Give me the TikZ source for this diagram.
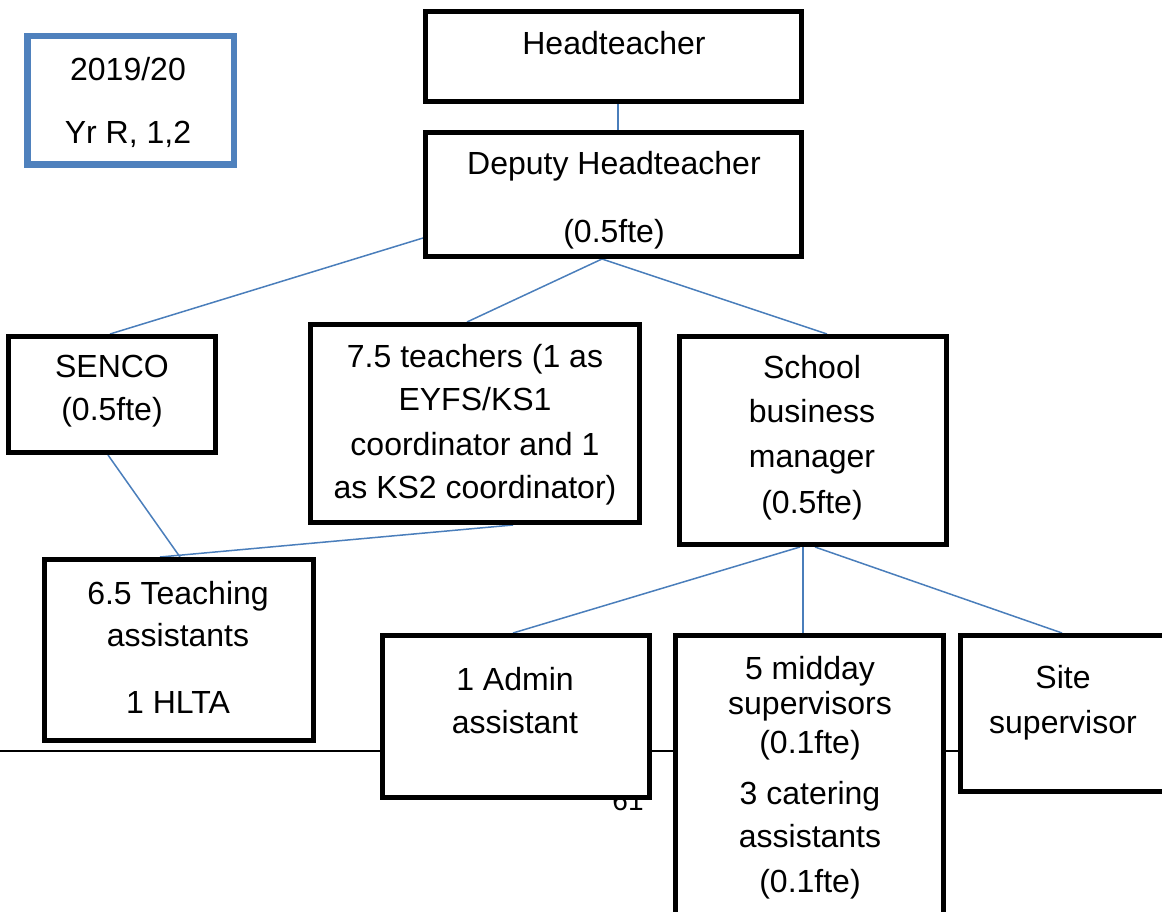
\documentclass[tikz,border=0pt]{standalone}
\usepackage{fontspec}
\setmainfont{Liberation Sans}
\usetikzlibrary{backgrounds}
\definecolor{linkblue}{RGB}{74,126,187}
\definecolor{tagblue}{RGB}{79,129,189}
\tikzset{
  box/.style={draw=black, line width=5pt, fill=white, rectangle, inner sep=0pt},
  tagbox/.style={draw=tagblue, line width=6.5pt, fill=white, rectangle, inner sep=0pt},
  link/.style={draw=linkblue, line width=1.5pt},
  footrule/.style={draw=black, line width=2pt},
  lbl/.style={font=\fontsize{32}{38}\selectfont, anchor=base, inner sep=0pt},
  pagelbl/.style={font=\fontsize{28}{32}\selectfont, anchor=base, inner sep=0pt}
}
\begin{document}
\begin{tikzpicture}[x=1pt, y=-1pt]
\useasboundingbox (0,0) rectangle (1162,912);
\clip (0,0) rectangle (1162,912);

% boxes
\node[tagbox, minimum width=206.5pt, minimum height=128.5pt] (year) at (130.5,100.5) {};
\node[box, minimum width=376pt, minimum height=90pt]  (head)   at (613.5,56.5) {};
\node[box, minimum width=376pt, minimum height=124pt] (deputy) at (613.5,194.5) {};
\node[box, minimum width=207pt, minimum height=116pt] (senco)  at (112,394.5) {};
\node[box, minimum width=329pt, minimum height=198pt] (teach)  at (475,423.5) {};
\node[box, minimum width=267pt, minimum height=208pt] (sbm)    at (813,440.5) {};
\node[box, minimum width=269pt, minimum height=181pt] (ta)     at (179,650) {};
\node[box, minimum width=267pt, minimum height=162pt] (admin)  at (516,716.5) {};
\node[box, minimum width=268pt, minimum height=292pt] (midday) at (809.5,781.5) {};
\node[box, minimum width=217pt, minimum height=156pt] (site)   at (1069,713.5) {};

% page rule, page number and connectors sit behind the boxes
\begin{pgfonlayer}{background}
  \draw[footrule] (0,751) -- (1162,751);
  \node[pagelbl] (pagenum) at (628,810) {61};
  \draw[link] ([xshift=4.5pt]head.south) -- ([xshift=4.5pt]deputy.north);
  \draw[link] ([yshift=-43.5pt]deputy.west) -- ([xshift=-2pt]senco.north);
  \draw[link] ([xshift=-11.5pt]deputy.south) -- ([xshift=-8pt]teach.north);
  \draw[link] ([xshift=-11.5pt]deputy.south) -- ([xshift=14pt]sbm.north);
  \draw[link] ([xshift=-4pt]senco.south) -- ([xshift=1pt]ta.north);
  \draw[link] ([xshift=38pt]teach.south) -- ([xshift=-19pt]ta.north);
  \draw[link] ([xshift=-13pt]sbm.south) -- ([xshift=-3pt]admin.north);
  \draw[link] ([xshift=-10pt]sbm.south) -- ([xshift=-6.5pt]midday.north);
  \draw[link] ([xshift=2pt]sbm.south) -- ([xshift=-7pt]site.north);
\end{pgfonlayer}

% labels
\node[lbl] (year1) at (128,81)  {2019/20};
\node[lbl] (year2) at (128,144) {Yr R, 1,2};

\node[lbl] (head1) at (614,55) {Headteacher};

\node[lbl] (dep1) at (614,175) {Deputy Headteacher};
\node[lbl] (dep2) at (614,243) {(0.5fte)};

\node[lbl] (sen1) at (112,377) {SENCO};
\node[lbl] (sen2) at (112,420) {(0.5fte)};

\node[lbl] (tea1) at (475,367) {7.5 teachers (1 as};
\node[lbl] (tea2) at (475,410) {EYFS/KS1};
\node[lbl] (tea3) at (475,455) {coordinator and 1};
\node[lbl] (tea4) at (475,498) {as KS2 coordinator)};

\node[lbl] (sbm1) at (812,378) {School};
\node[lbl] (sbm2) at (812,422) {business};
\node[lbl] (sbm3) at (812,467) {manager};
\node[lbl] (sbm4) at (812,513) {(0.5fte)};

\node[lbl] (ta1) at (178,604) {6.5 Teaching};
\node[lbl] (ta2) at (178,646) {assistants};
\node[lbl] (ta3) at (178,713) {1 HLTA};

\node[lbl] (adm1) at (515,690) {1 Admin};
\node[lbl] (adm2) at (515,733) {assistant};

\node[lbl] (mid1) at (810,679) {5 midday};
\node[lbl] (mid2) at (810,714) {supervisors};
\node[lbl] (mid3) at (810,753) {(0.1fte)};
\node[lbl] (mid4) at (810,804) {3 catering};
\node[lbl] (mid5) at (810,847) {assistants};
\node[lbl] (mid6) at (810,892) {(0.1fte)};

\node[lbl] (site1) at (1063,688) {Site};
\node[lbl] (site2) at (1063,733) {supervisor};
\end{tikzpicture}
\end{document}
